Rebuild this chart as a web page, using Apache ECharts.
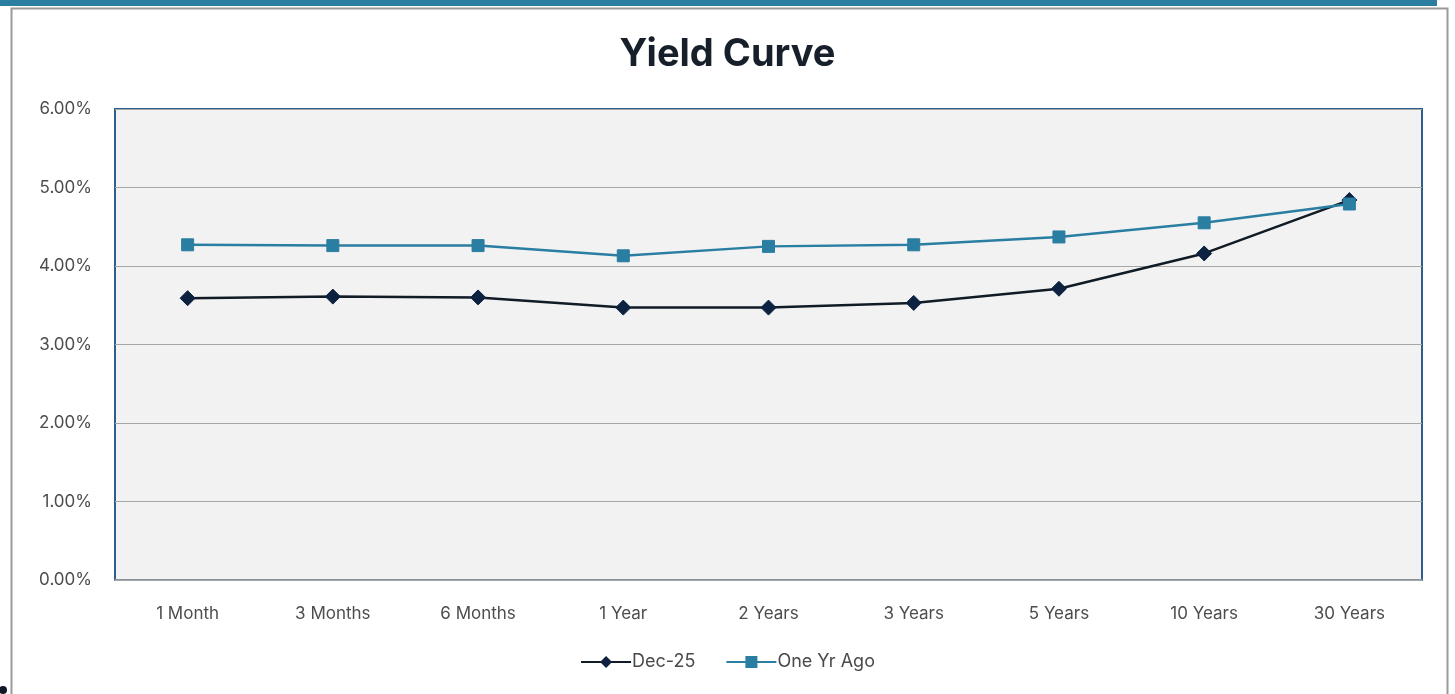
<!DOCTYPE html>
<html>
<head>
<meta charset="utf-8">
<script src="https://cdn.jsdelivr.net/npm/echarts@6/dist/echarts.min.js"></script>
<style>
html,body{margin:0;padding:0;background:#fff;}
#c{width:1455px;height:694px;}
</style>
</head>
<body>
<div id="c"></div>
<script>
const categories = ['1 Month','3 Months','6 Months','1 Year','2 Years','3 Years','5 Years','10 Years','30 Years'];
const dec25 = [3.59, 3.61, 3.60, 3.47, 3.47, 3.53, 3.71, 4.16, 4.84];
const oneYrAgo = [4.27, 4.26, 4.26, 4.13, 4.25, 4.27, 4.37, 4.55, 4.79];
const yTicks = {min: 0, max: 6, interval: 1};

const chart = echarts.init(document.getElementById('c'), null, {renderer: 'canvas'});
const font = 'Inter, "Noto Sans", sans-serif';
chart.setOption({
  backgroundColor: '#ffffff',
  animation: false,
  title: {
    text: 'Yield Curve',
    left: 'center',
    top: 31,
    textStyle: {fontFamily: font, fontWeight: 'bold', fontSize: 38, color: '#17202a'}
  },
  legend: {
    bottom: 18,
    left: 'center',
    itemWidth: 50,
    itemHeight: 15,
    itemGap: 30,
    textStyle: {fontFamily: font, fontSize: 18, color: '#4a4a4a', padding: [0, 0, 0, -4]},
    data: ['Dec-25', 'One Yr Ago']
  },
  grid: {
    left: 115, right: 33, top: 109, bottom: 114,
    show: true,
    backgroundColor: '#f2f2f2',
    borderColor: '#2e5e8e',
    borderWidth: 2
  },
  graphic: [
    {type: 'rect', shape: {x: 0, y: 0, width: 1437, height: 6}, style: {fill: '#2a7ea2'}, z: 100},
    {type: 'rect', shape: {x: 11.5, y: 8.5, width: 1436, height: 700}, style: {fill: 'none', stroke: '#9a9a9a', lineWidth: 2}, z: 100},
    {type: 'circle', shape: {cx: 3, cy: 690, r: 4}, style: {fill: '#111827'}, z: 100}
  ],
  xAxis: {
    type: 'category',
    data: categories,
    boundaryGap: true,
    axisLine: {show: true, lineStyle: {color: '#a6a6a6', width: 1.5}},
    axisTick: {show: false},
    axisLabel: {fontFamily: font, fontSize: 17, color: '#4d4d4d', margin: 25}
  },
  yAxis: {
    type: 'value',
    min: yTicks.min, max: yTicks.max, interval: yTicks.interval,
    axisLine: {show: false},
    axisTick: {show: false},
    splitLine: {show: true, lineStyle: {color: '#a6a6a6', width: 1.2}},
    axisLabel: {fontFamily: font, fontSize: 17, color: '#4d4d4d', margin: 23,
      formatter: v => v.toFixed(2) + '%'}
  },
  series: [
    {
      name: 'Dec-25',
      type: 'line',
      data: dec25,
      symbol: 'diamond',
      symbolSize: 15,
      lineStyle: {color: '#101b26', width: 2.5},
      itemStyle: {color: '#0d2240', borderColor: '#0d2240'},
      z: 3
    },
    {
      name: 'One Yr Ago',
      type: 'line',
      data: oneYrAgo,
      symbol: 'rect',
      symbolSize: 12,
      lineStyle: {color: '#2a7ea2', width: 2.5},
      itemStyle: {color: '#2a7ea2', borderColor: '#2a7ea2'},
      z: 4
    }
  ]
});
</script>
</body>
</html>
